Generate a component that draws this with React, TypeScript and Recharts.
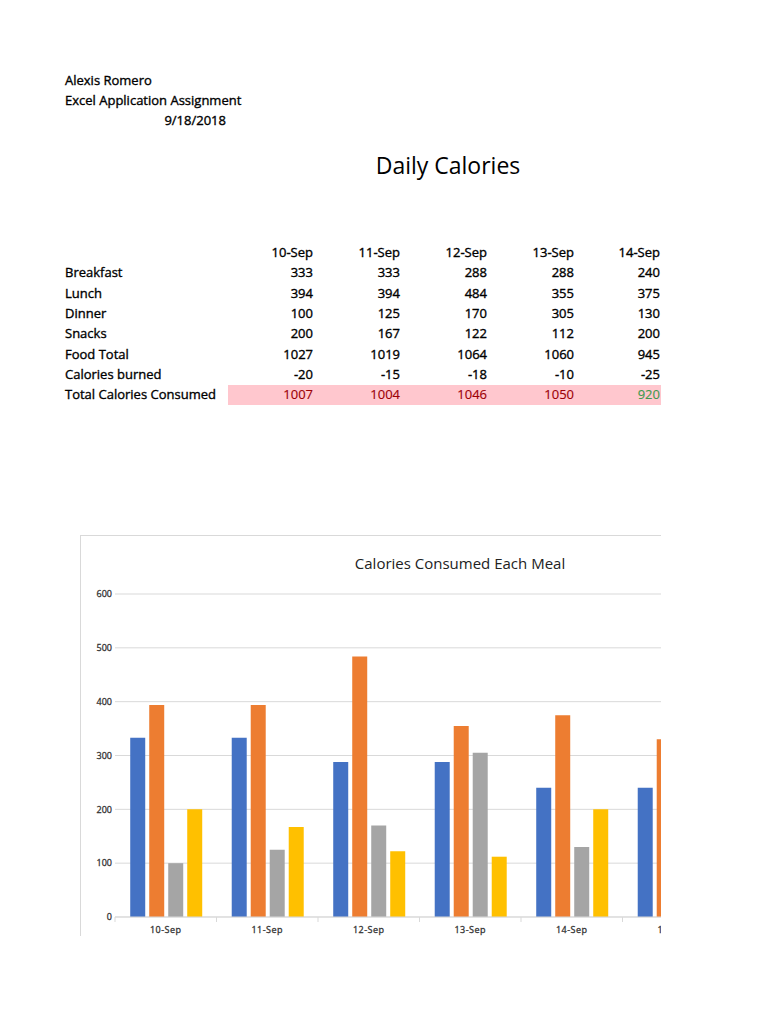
import { Bar, BarChart, CartesianGrid, XAxis, YAxis } from "recharts";

const days = ["10-Sep", "11-Sep", "12-Sep", "13-Sep", "14-Sep"];
const rowLabels = [
  "Breakfast",
  "Lunch",
  "Dinner",
  "Snacks",
  "Food Total",
  "Calories burned",
  "Total Calories Consumed",
];
const breakfast = [333, 333, 288, 288, 240];
const lunch = [394, 394, 484, 355, 375];
const dinner = [100, 125, 170, 305, 130];
const snacks = [200, 167, 122, 112, 200];
const foodTotal = [1027, 1019, 1064, 1060, 945];
const burned = [-20, -15, -18, -10, -25];
const consumed = [1007, 1004, 1046, 1050, 920];

// chart has one more day than the table; only part of it is visible
const chartDays = [...days, "15-Sep"];
const chartBreakfast = [...breakfast, 240];
const chartLunch = [...lunch, 330];
const chartDinner: (number | null)[] = [...dinner, null];
const chartSnacks: (number | null)[] = [...snacks, null];
const yTicks = [0, 100, 200, 300, 400, 500, 600];

const chartData = chartDays.map((d, i) => ({
  day: d,
  breakfast: chartBreakfast[i],
  lunch: chartLunch[i],
  dinner: chartDinner[i],
  snacks: chartSnacks[i],
}));

const tableRows = [breakfast, lunch, dinner, snacks, foodTotal, burned, consumed];

const FONT = "'Open Sans', 'Noto Sans', sans-serif";
const colRight = [313, 400, 487, 574, 660];
const rowY = [272, 293, 313, 333, 354, 374, 394];

function Txt({
  x,
  y,
  children,
  align = "left",
  size = 13,
  color = "#000",
  w = 220,
  stroke = 0.35,
}: {
  x: number;
  y: number;
  children: React.ReactNode;
  align?: "left" | "right" | "center";
  size?: number;
  color?: string;
  w?: number;
  stroke?: number;
}) {
  const left = align === "left" ? x : align === "right" ? x - w : x - w / 2;
  return (
    <div
      style={{
        position: "absolute",
        left,
        top: y - 10,
        width: w,
        height: 20,
        lineHeight: "20px",
        fontSize: size,
        color,
        WebkitTextStroke: stroke ? `${stroke}px ${color}` : undefined,
        textAlign: align,
        whiteSpace: "nowrap",
      }}
    >
      {children}
    </div>
  );
}

function XTick(props: any) {
  const { x, y, payload } = props;
  const off = payload?.offset ?? 50.75;
  return (
    <g>
      <line x1={x - off} x2={x - off} y1={y} y2={y + 5} stroke="#d9d9d9" />
      <text
        x={x}
        y={y + 10}
        dy="0.71em"
        textAnchor="middle"
        fontSize={9}
        fill="#333"
        stroke="#333"
        strokeWidth={0.3}
        letterSpacing={0.5}
      >
        {payload.value}
      </text>
    </g>
  );
}

export default function App() {
  return (
    <div
      style={{
        position: "absolute",
        left: 0,
        top: 0,
        width: 768,
        height: 1024,
        background: "#fff",
        fontFamily: FONT,
        overflow: "hidden",
      }}
    >
      <Txt x={65} y={80}>Alexis Romero</Txt>
      <Txt x={65} y={100}>Excel Application Assignment</Txt>
      <Txt x={226} y={120} align="right">9/18/2018</Txt>
      <Txt x={448} y={165} align="center" size={23} w={300} stroke={0}>
        Daily Calories
      </Txt>

      <div
        style={{
          position: "absolute",
          left: 228,
          top: 385,
          width: 433,
          height: 20,
          background: "#ffc7ce",
        }}
      />
      {days.map((d, i) => (
        <Txt key={d} x={colRight[i]} y={252} align="right" w={80}>
          {d}
        </Txt>
      ))}
      {rowLabels.map((label, r) => (
        <Txt key={label} x={65} y={rowY[r]}>
          {label}
        </Txt>
      ))}
      {tableRows.map((row, r) =>
        row.map((v, i) => (
          <Txt
            key={r + "-" + i}
            x={colRight[i]}
            y={rowY[r]}
            align="right"
            w={80}
            stroke={r === 6 ? 0.15 : 0.35}
            color={r === 6 ? (v < 1000 ? "#3f9a4e" : "#9c0006") : "#000"}
          >
            {v}
          </Txt>
        ))
      )}

      <div
        style={{
          position: "absolute",
          left: 80,
          top: 535,
          width: 581,
          height: 401,
          borderLeft: "1px solid #d9d9d9",
          borderTop: "1px solid #d9d9d9",
          boxSizing: "border-box",
          overflow: "hidden",
        }}
      >
        <div
          style={{
            position: "absolute",
            left: 149,
            top: 16,
            width: 460,
            fontSize: 15,
            lineHeight: "22px",
            color: "#222",
            textAlign: "center",
            whiteSpace: "nowrap",
          }}
        >
          Calories Consumed Each Meal
        </div>
        <BarChart
          width={653}
          height={425}
          data={chartData}
          margin={{ top: 58, right: 10, bottom: 10, left: 0 }}
          barCategoryGap="15%"
          barGap={4}
          style={{ position: "absolute", left: 0, top: 0, fontFamily: FONT }}
        >
          <CartesianGrid vertical={false} stroke="#d9d9d9" />
          <XAxis
            dataKey="day"
            axisLine={{ stroke: "#d9d9d9" }}
            tickLine={false}
            tickSize={0}
            tickMargin={0}
            tick={<XTick />}
            interval={0}
            height={34}
          />
          <YAxis
            domain={[0, 600]}
            ticks={yTicks}
            axisLine={false}
            tickLine={false}
            tickSize={0}
            tickMargin={3}
            width={34}
            tick={{ fontSize: 9, fill: "#333", stroke: "#333", strokeWidth: 0.3 }}
          />
          <Bar dataKey="breakfast" fill="#4472c4" isAnimationActive={false} />
          <Bar dataKey="lunch" fill="#ed7d31" isAnimationActive={false} />
          <Bar dataKey="dinner" fill="#a5a5a5" isAnimationActive={false} />
          <Bar dataKey="snacks" fill="#ffc000" isAnimationActive={false} />
        </BarChart>
      </div>
    </div>
  );
}
